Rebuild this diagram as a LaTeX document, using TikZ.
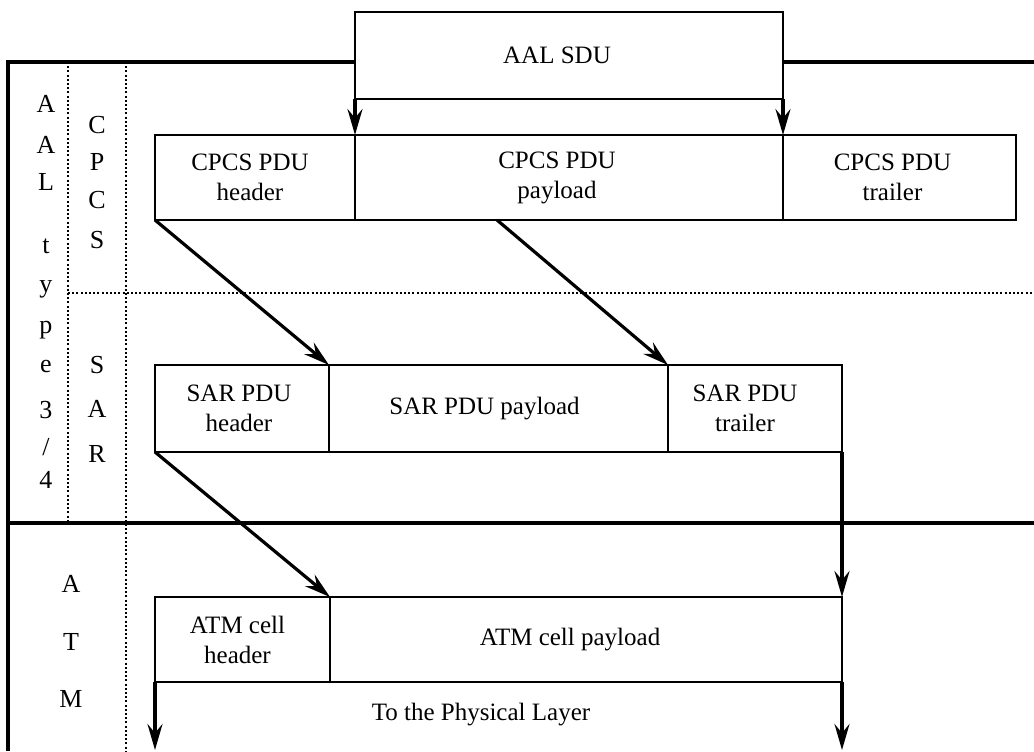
\documentclass[tikz,border=0pt]{standalone}
\usepackage{fontspec}
\setmainfont{Liberation Serif}
\usetikzlibrary{arrows.meta,calc}
\begin{document}
\begin{tikzpicture}[x=0.5pt,y=-0.5pt,
  cell/.style={draw, line width=1.3pt, inner sep=0pt, outer sep=0pt, anchor=north west},
  txt/.style={inner sep=0pt, align=center, font=\fontsize{12.5}{15}\selectfont},
  frame/.style={line width=1.6pt},
  dots/.style={line width=1.2pt, dash pattern=on 1pt off 1.1pt},
  flow/.style={line width=1.6pt, -{Stealth[length=13pt,width=7.5pt,inset=4.5pt]}},
  lbl/.style={anchor=base, inner sep=0pt, font=\fontsize{13}{15}\selectfont},
]
\useasboundingbox (0,0) rectangle (1034,751);

% frame
\draw[frame] (8,751) -- (8,62) -- (355,62);
\draw[frame] (783,62) -- (1034,62);
\draw[frame] (8,523) -- (1034,523);
\draw[dots] (68,62) -- (68,523);
\draw[dots] (126,62) -- (126,751);
\draw[dots] (68,293) -- (1034,293);

% boxes
\node[cell, minimum width=214pt, minimum height=43.5pt,
  label={[txt,xshift=-6pt]center:AAL SDU}] (sdu) at (355,12) {};

\node[cell, minimum width=100pt, minimum height=42.5pt,
  label={[txt,xshift=-2.5pt]center:CPCS PDU\\header}] (ch) at (155,135) {};
\node[cell, minimum width=214pt, minimum height=42.5pt,
  label={[txt,xshift=-6pt]center:CPCS PDU\\payload}] (cp) at (355,135) {};
\node[cell, minimum width=116.5pt, minimum height=42.5pt,
  label={[txt,xshift=-3.5pt]center:CPCS PDU\\trailer}] (ct) at (783,135) {};

\node[cell, minimum width=87pt, minimum height=43.5pt,
  label={[txt,xshift=-1.5pt]center:SAR PDU\\header}] (sh) at (155,365) {};
\node[cell, minimum width=169.5pt, minimum height=43.5pt,
  label={[txt,xshift=-7pt]center:SAR PDU payload}] (sp) at (329,365) {};
\node[cell, minimum width=87pt, minimum height=43.5pt,
  label={[txt,xshift=-5pt]center:SAR PDU\\trailer}] (st) at (668,365) {};

\node[cell, minimum width=87.5pt, minimum height=42.5pt,
  label={[txt,xshift=-2.5pt]center:ATM cell\\header}] (ah) at (155,597) {};
\node[cell, minimum width=256pt, minimum height=42.5pt,
  label={[txt,xshift=-8pt]center:ATM cell payload}] (ap) at (330,597) {};

\node[txt, anchor=base] (phys) at (481,720) {To the Physical Layer};

% connectors
\coordinate (c1) at ($(cp.south west)+(142,0)$);
\coordinate (b1) at (155,750);
\coordinate (b2) at (842,750);
\draw[flow] (sdu.south west) -- (cp.north west);
\draw[flow] (sdu.south east) -- (cp.north east);
\draw[flow] (ch.south west) -- (sh.north east);
\draw[flow] (c1) -- (st.north west);
\draw[flow] (sh.south west) -- (ah.north east);
\draw[flow] (st.south east) -- (ap.north east);
\draw[flow] (ah.south west) -- (b1);
\draw[flow] (ap.south east) -- (b2);

% left column labels
\node[lbl] (l1) at (46,112) {A};
\node[lbl] (l2) at (46,153) {A};
\node[lbl] (l3) at (46,190) {L};
\node[lbl] (l4) at (46,253) {t};
\node[lbl] (l5) at (46,292) {y};
\node[lbl] (l6) at (46,333) {p};
\node[lbl] (l7) at (46,372) {e};
\node[lbl] (l8) at (46,418) {3};
\node[lbl] (l9) at (46,455) {/};
\node[lbl] (l10) at (46,488) {4};

\node[lbl] (c1l) at (97,133) {C};
\node[lbl] (c2l) at (97,170) {P};
\node[lbl] (c3l) at (97,208) {C};
\node[lbl] (c4l) at (97,248) {S};

\node[lbl] (s1l) at (97,373) {S};
\node[lbl] (s2l) at (97,417) {A};
\node[lbl] (s3l) at (97,462) {R};

\node[lbl] (a1l) at (71,592) {A};
\node[lbl] (a2l) at (71,650) {T};
\node[lbl] (a3l) at (71,707) {M};
\end{tikzpicture}
\end{document}
